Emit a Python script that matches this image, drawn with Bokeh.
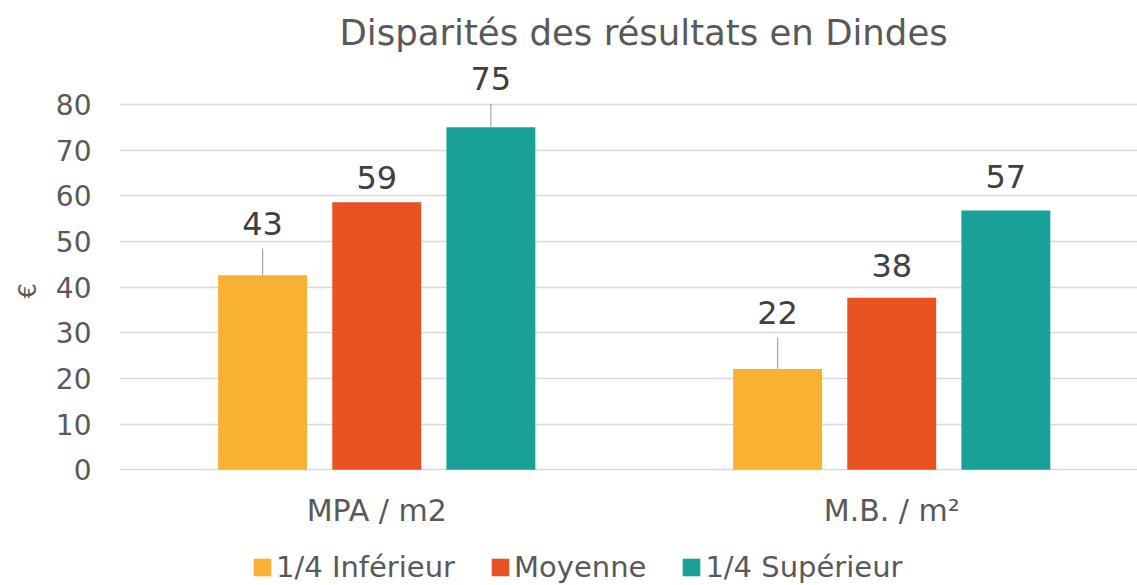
from bokeh.plotting import figure
from bokeh.models import (ColumnDataSource, Range1d, FixedTicker, Legend,
                          LegendItem, Title)
from bokeh.core.properties import value
from bokeh.embed import file_html
from bokeh.resources import INLINE

# ---- data ----
categories = ["MPA / m2", "M.B. / m²"]
series = ["1/4 Inférieur", "Moyenne", "1/4 Supérieur"]
inferieur = [42.6, 22.1]
moyenne = [58.6, 37.7]
superieur = [75.0, 56.8]
labels_inf = ["43", "22"]
labels_moy = ["59", "38"]
labels_sup = ["75", "57"]
y_ticks = [0, 10, 20, 30, 40, 50, 60, 70, 80]
y_unit = "€"
title = "Disparités des résultats en Dindes"

# ---- style / geometry ----
FONT = "DejaVu Sans"
colors = ["#F8B133", "#E95322", "#19A199"]
offsets = [-0.2216, 0.0, 0.2216]
bar_w = 0.1727
label_px = [[51.7, 56.3], [24.5, 32.6], [48.7, 33.7]]
leader = [[True, True], [False, False], [True, False]]

W, H = 1137, 585
FRAME_L, FRAME_T = 118, 58          # frame edges (px)
ZERO_PX = 469.3                       # pixel row of value 0
PX_PER_UNIT = 4.566
PX_PER_CAT = 515.5
CAT0_PX = 375.5                       # pixel column of first category centre

y_lo = -(H - ZERO_PX) / PX_PER_UNIT
y_hi = (ZERO_PX - FRAME_T) / PX_PER_UNIT
x_lo = 0.5 - (CAT0_PX - FRAME_L) / PX_PER_CAT
x_hi = x_lo + (W - FRAME_L) / PX_PER_CAT

p = figure(width=W, height=H, output_backend="svg", toolbar_location=None,
           x_range=Range1d(x_lo, x_hi), y_range=Range1d(y_lo, y_hi),
           min_border_left=FRAME_L, min_border_right=0, min_border_top=FRAME_T,
           min_border_bottom=0, title=title)
p.outline_line_color = None
p.background_fill_color = "white"
p.border_fill_color = "white"

p.title.align = "left"
p.title.text_font = FONT
p.title.text_font_style = "normal"
p.title.text_font_size = "35.5px"
p.title.text_color = "#595959"
p.title.offset = 220
p.title.standoff = 11

cx = [i + 0.5 for i in range(len(categories))]

# y axis
p.yaxis.ticker = FixedTicker(ticks=y_ticks)
p.yaxis.axis_line_color = None
p.yaxis.major_tick_line_color = None
p.yaxis.minor_tick_line_color = None
p.yaxis.major_label_text_font = FONT
p.yaxis.major_label_text_font_size = "28px"
p.yaxis.major_label_text_color = "#595959"
p.yaxis.major_label_standoff = 22

unit_title = Title(text=y_unit, align="left", text_font=FONT,
                   text_font_style="normal", text_font_size="24px",
                   text_color="#595959", offset=H - 298, standoff=22)
p.add_layout(unit_title, "left")

p.ygrid.ticker = FixedTicker(ticks=y_ticks)
p.ygrid.grid_line_color = "#D9D9D9"
p.ygrid.grid_line_width = 1.5
p.xgrid.grid_line_color = None
p.xaxis.visible = False

# category labels under the bars
p.text(x=cx, y=[0] * len(cx), text=categories, y_offset=41,
       text_align="center", text_baseline="middle",
       text_font=value(FONT), text_font_size="30px", text_color="#595959")

vals = [inferieur, moyenne, superieur]
labs = [labels_inf, labels_moy, labels_sup]
items = []
for k, name in enumerate(series):
    xs = [c + offsets[k] for c in cx]
    src = ColumnDataSource(dict(x=xs, top=vals[k], lab=labs[k],
                                off=[-o for o in label_px[k]]))
    r = p.vbar(x="x", top="top", width=bar_w, source=src,
               fill_color=colors[k], line_color=None)
    items.append(LegendItem(label=name, renderers=[r]))
    p.text(x="x", y="top", text="lab", y_offset="off", source=src,
           text_align="center", text_baseline="middle",
           text_font=value(FONT), text_font_size="32px", text_color="#404040")
    sx, sy0, sy1 = [], [], []
    for j in range(len(cx)):
        if leader[k][j]:
            sx.append(xs[j])
            sy0.append(vals[k][j])
            sy1.append(vals[k][j] + (label_px[k][j] - 25) / PX_PER_UNIT)
    if sx:
        p.segment(x0=sx, y0=sy0, x1=sx, y1=sy1, line_color="#A6A6A6",
                  line_width=1.2)

legend = Legend(items=items, orientation="horizontal", location=(132, 1),
                label_text_font=FONT, label_text_font_size="29px",
                label_text_color="#595959", glyph_width=22, glyph_height=22,
                label_standoff=3, spacing=34, border_line_color=None,
                background_fill_alpha=0, padding=0, margin=0)
p.add_layout(legend, "center")

open("out.html", "w").write(file_html(p, INLINE))
